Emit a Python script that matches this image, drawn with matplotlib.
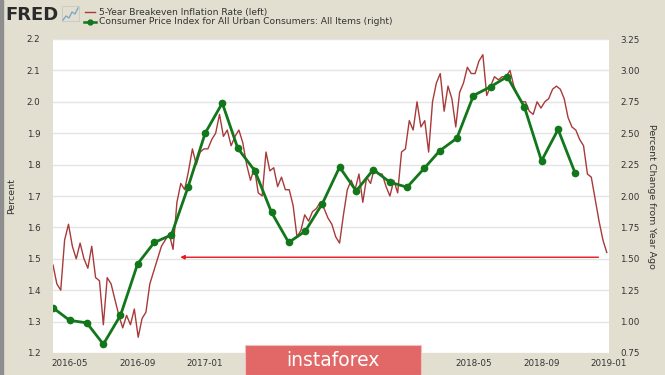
import numpy as np
import pandas as pd
import matplotlib
matplotlib.use("Agg")
import matplotlib.pyplot as plt
from matplotlib.lines import Line2D
from matplotlib.patches import Rectangle

# 5-Year Breakeven Inflation Rate (left axis), weekly readings
be_start = "2016-04-01"
breakeven = [
    1.48, 1.42, 1.40, 1.56, 1.61, 1.54, 1.50, 1.55, 1.50, 1.47,
    1.54, 1.44, 1.43, 1.29, 1.44, 1.42, 1.37, 1.32, 1.28, 1.32,
    1.29, 1.34, 1.25, 1.31, 1.33, 1.42, 1.46, 1.50, 1.54, 1.56,
    1.58, 1.53, 1.68, 1.74, 1.72, 1.78, 1.85, 1.80, 1.84, 1.85,
    1.85, 1.88, 1.90, 1.96, 1.89, 1.91, 1.86, 1.89, 1.91, 1.87,
    1.80, 1.75, 1.79, 1.71, 1.70, 1.84, 1.78, 1.79, 1.73, 1.76,
    1.72, 1.72, 1.67, 1.57, 1.59, 1.64, 1.62, 1.65, 1.66, 1.68,
    1.66, 1.63, 1.61, 1.57, 1.55, 1.64, 1.72, 1.75, 1.72, 1.77,
    1.68, 1.76, 1.74, 1.79, 1.77, 1.77, 1.73, 1.70, 1.75, 1.71,
    1.84, 1.85, 1.94, 1.91, 2.00, 1.92, 1.94, 1.84, 2.00, 2.06,
    2.09, 1.97, 2.05, 2.01, 1.92, 2.03, 2.06, 2.11, 2.09, 2.09,
    2.13, 2.15, 2.02, 2.05, 2.08, 2.07, 2.08, 2.08, 2.10, 2.05,
    2.02, 2.00, 2.00, 1.97, 1.96, 2.00, 1.98, 2.00, 2.01, 2.04,
    2.05, 2.04, 2.01, 1.95, 1.92, 1.91, 1.88, 1.86, 1.77, 1.76,
    1.69, 1.62, 1.56, 1.52,
]

# CPI, percent change from year ago (right axis), monthly
cpi_start = "2016-04-01"
cpi = [
    1.11, 1.01, 0.99, 0.82, 1.05, 1.46, 1.63, 1.69, 2.07,
    2.50, 2.74, 2.38, 2.20, 1.87, 1.63, 1.72, 1.94, 2.23, 2.04, 2.21, 2.11,
    2.07, 2.22, 2.36, 2.46, 2.80, 2.87, 2.95, 2.71, 2.28, 2.53, 2.18,
]

left_ticks = [1.2, 1.3, 1.4, 1.5, 1.6, 1.7, 1.8, 1.9, 2.0, 2.1, 2.2]
right_ticks = [0.75, 1.00, 1.25, 1.50, 1.75, 2.00, 2.25, 2.50, 2.75, 3.00, 3.25]
x_ticks = ["2016-05", "2016-09", "2017-01", "2017-05", "2017-09",
           "2018-01", "2018-05", "2018-09", "2019-01"]
# labels hidden under the watermark in the source image
x_hidden = ["2017-05", "2017-09", "2018-01"]

be_dates = pd.date_range(be_start, periods=len(breakeven), freq="7D")
cpi_dates = pd.date_range(cpi_start, periods=len(cpi), freq="MS")

bg = "#e2dfd0"
red = "#a83a3a"
green = "#11771a"
txt = "#333333"

fig = plt.figure(figsize=(6.65, 3.75), dpi=100, facecolor=bg)
ax = fig.add_axes([53 / 665, 22 / 375, 556 / 665, 314 / 375])
ax.set_facecolor("white")
ax2 = ax.twinx()

ax.plot(be_dates, breakeven, color=red, lw=1.0, zorder=3)
ax2.plot(cpi_dates, cpi, color=green, lw=2.0, marker="o", ms=4.5, zorder=4)

ax.set_xlim(pd.Timestamp("2016-04-01"), pd.Timestamp("2019-01-01"))
ax.set_ylim(1.2, 2.2)
ax2.set_ylim(0.75, 3.25)

ax.set_yticks(left_ticks)
ax.set_yticklabels([f"{v:.1f}" for v in left_ticks])
ax2.set_yticks(right_ticks)
ax2.set_yticklabels([f"{v:.2f}" for v in right_ticks])
ax.set_xticks([pd.Timestamp(t + "-01") for t in x_ticks])
ax.set_xticklabels(["" if t in x_hidden else t for t in x_ticks])

ax.grid(axis="y", color="#e4e4e4", lw=1.0)
ax.set_axisbelow(True)
ax2.set_zorder(ax.get_zorder() + 1)
ax2.patch.set_visible(False)

for a in (ax, ax2):
    for s in a.spines.values():
        s.set_visible(False)
    a.tick_params(length=0, labelsize=6.3, labelcolor=txt)
ax.tick_params(axis="y", pad=9)
ax2.tick_params(axis="y", pad=8)
ax.tick_params(axis="x", pad=4)

ax.set_ylabel("Percent", fontsize=6.8, color=txt)
ax.yaxis.set_label_coords(-0.066, 0.5)
ax2.set_ylabel("Percent Change from Year Ago", fontsize=6.8, color=txt,
               rotation=270, va="bottom")
ax2.yaxis.set_label_coords(1.068, 0.5)

# red arrow
ax.annotate("", xy=(pd.Timestamp("2016-11-12"), 1.505),
            xytext=(pd.Timestamp("2018-12-18"), 1.505),
            arrowprops=dict(arrowstyle="-|>", color="#e8141e", lw=1.0,
                            mutation_scale=6), zorder=6)

# left border strip
fig.patches.append(Rectangle((0, 0), 3 / 665, 1, transform=fig.transFigure,
                             color="#8e8e8e", zorder=0))

# FRED header
fig.text(5 / 665, 1 - 15 / 375, "FRED", fontsize=13, fontweight="bold",
         color="#2b2b2b", va="center", ha="left")
icon_x = np.array([63, 66, 69, 72, 75, 78]) / 665
icon_y = 1 - np.array([20, 16, 18, 12, 14, 8]) / 375
fig.lines.append(Line2D(icon_x, icon_y, transform=fig.transFigure,
                        color="#7fa8c8", lw=1.0))
fig.patches.append(Rectangle((62 / 665, 1 - 21 / 375), 17 / 665, 15 / 375,
                             transform=fig.transFigure, fill=False,
                             ec="#c8c8c0", lw=0.6))

# legend
fig.lines.append(Line2D([85 / 665, 95 / 665], [1 - 12 / 375] * 2,
                        transform=fig.transFigure, color=red, lw=1.0))
fig.lines.append(Line2D([84 / 665, 96 / 665], [1 - 22 / 375] * 2,
                        transform=fig.transFigure, color=green, lw=1.8))
fig.lines.append(Line2D([90 / 665], [1 - 22 / 375], transform=fig.transFigure,
                        color=green, marker="o", ms=3.5))
fig.text(99 / 665, 1 - 12 / 375, "5-Year Breakeven Inflation Rate (left)",
         fontsize=6.6, color=txt, va="center")
fig.text(99 / 665, 1 - 22 / 375,
         "Consumer Price Index for All Urban Consumers: All Items (right)",
         fontsize=6.6, color=txt, va="center")

# watermark
fig.patches.append(Rectangle((245 / 665, 0), 176 / 665, 30 / 375,
                             transform=fig.transFigure, fc="#e26868",
                             ec="#f0c0c0", lw=0.8, zorder=10))
fig.text(333 / 665, 14 / 375, "instaforex", fontsize=13.5, color="white",
         ha="center", va="center", zorder=11)

fig.savefig("out.png", dpi=100, facecolor=bg)
